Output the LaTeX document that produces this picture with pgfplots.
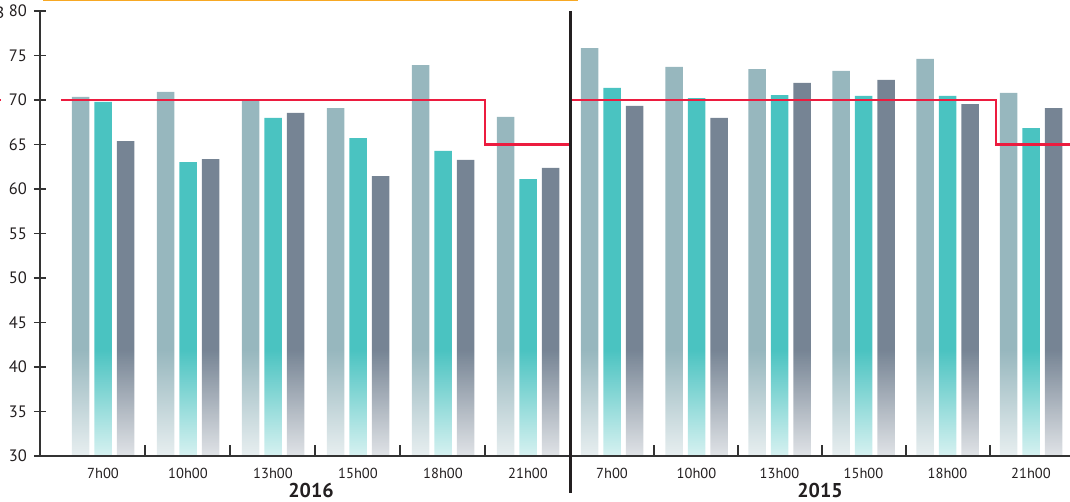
\documentclass[border=0pt]{standalone}
\usepackage{fontspec}
\setmainfont{PT Sans}
\usepackage{pgfplots}
\usepackage{pgfplotstable}
\pgfplotsset{compat=1.18}
\usetikzlibrary{fadings}
\definecolor{cA}{HTML}{97B7BE}
\definecolor{cB}{HTML}{4AC3C1}
\definecolor{cC}{HTML}{768494}
\definecolor{redl}{HTML}{EC1C3F}
\definecolor{orl}{HTML}{F7A823}
\definecolor{axc}{HTML}{333333}
\definecolor{txt}{HTML}{231F20}

\pgfplotstableread{
x     a     b     c
103   70.34 69.80 65.39
188   70.90 63.03 63.37
273   70.00 67.98 68.54
358   69.10 65.73 61.46
443   73.93 64.27 63.26
528   68.09 61.12 62.36
612   75.84 71.35 69.33
696.5 73.71 70.22 67.98
779.5 73.48 70.56 71.91
863.5 73.26 70.45 72.25
947.5 74.61 70.45 69.55
1031  70.79 66.85 69.10
}\data

\begin{document}
\begin{tikzpicture}
\begin{axis}[
  name=main, at={(0,0)}, anchor=south west,
  scale only axis, width=1030pt, height=445pt,
  xmin=40, xmax=1070, ymin=30, ymax=80,
  axis x line=bottom, axis y line=left,
  axis line style={-, draw=axc, line width=1.4pt},
  axis on top,
  tick align=center,
  major tick length=12pt, minor tick length=11pt,
  tick style={draw=axc, line width=1.3pt},
  major x tick style={draw=none},
  minor x tick style={yshift=5.5pt},
  ytick={30,35,...,80},
  xtick={103,188,273,358,443,528,612,696.5,779.5,863.5,947.5,1031},
  xticklabels={7h00,10h00,13h00,15h00,18h00,21h00,7h00,10h00,13h00,15h00,18h00,21h00},
  minor xtick={145,230,315,400,485,654,738,822,906,990},
  /pgf/number format/assume math mode=true,
  yticklabel style={font=\fontsize{16.5}{16.5}\selectfont, text=txt, anchor=east, inner sep=0pt, xshift=-7pt},
  xticklabel style={font=\fontsize{14.5}{14.5}\selectfont, text=txt, yshift=-2.5pt},
]
\addplot[ybar, bar width=17.5, bar shift=-22.5, fill=cA, draw=none] table[x=x, y=a] {\data};
\addplot[ybar, bar width=17.5, bar shift=0, fill=cB, draw=none] table[x=x, y=b] {\data};
\addplot[ybar, bar width=17.5, bar shift=22.5, fill=cC, draw=none] table[x=x, y=c] {\data};
\fill[white, fill opacity=0.78, path fading=north] (axis cs:40,30) rectangle (axis cs:1070,42);
\addplot[redl, line width=2.8pt] coordinates {(61,70) (485,70) (485,65) (570,65) (570,70) (996,70) (996,65) (1075,65)};
\end{axis}
\begin{axis}[
  at={(0,0)}, anchor=south west,
  scale only axis, width=1030pt, height=445pt,
  xmin=40, xmax=1070, ymin=30, ymax=80,
  hide axis, clip=false,
]
\addplot[txt, line width=3pt] coordinates {(570,80) (570,25.84)};
\addplot[orl, line width=2pt] coordinates {(43,81.2) (578,81.2)};
\addplot[redl, line width=2.5pt] coordinates {(-20,70) (1,70)};
\node[font=\bfseries\fontsize{20}{20}\selectfont, anchor=base, text=txt] at (axis cs:311,25.39) {2016};
\node[font=\bfseries\fontsize{20}{20}\selectfont, anchor=base, text=txt] at (axis cs:820,25.39) {2015};
\node[font=\fontsize{16.5}{16.5}\selectfont, anchor=base east, text=txt, inner sep=0pt] at (axis cs:4.5,79.2) {dB};
\end{axis}
\pgfresetboundingbox
\path (-40pt,-45pt) rectangle (1030pt,456pt);
\end{tikzpicture}
\end{document}
